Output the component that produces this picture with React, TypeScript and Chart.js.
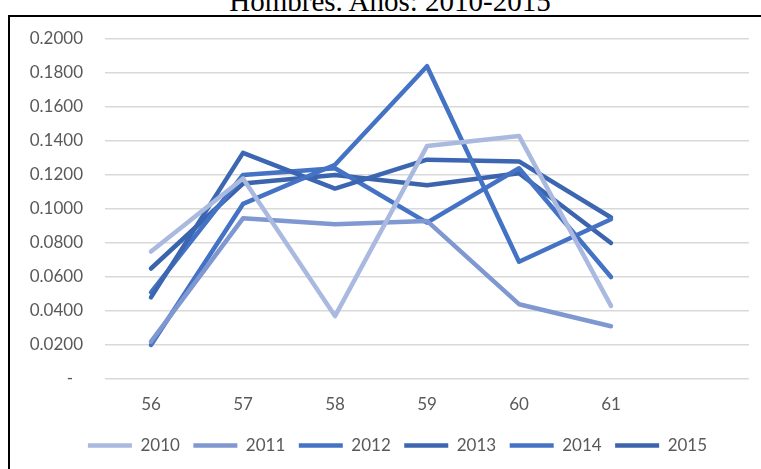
import React, { useEffect, useRef } from 'react';
import { Chart, registerables } from 'chart.js';

Chart.register(...registerables);

const titleText = 'Hombres. Años: 2010-2015';
const categories = ['56', '57', '58', '59', '60', '61', ''];
const years = ['2010', '2011', '2012', '2013', '2014', '2015'];

const s2010 = [0.075, 0.118, 0.037, 0.137, 0.143, 0.043];
const s2011 = [0.022, 0.0945, 0.091, 0.093, 0.044, 0.031];
const s2012 = [0.020, 0.103, 0.126, 0.184, 0.069, 0.094];
const s2013 = [0.048, 0.133, 0.112, 0.129, 0.128, 0.095];
const s2014 = [0.051, 0.120, 0.124, 0.092, 0.124, 0.060];
const s2015 = [0.065, 0.115, 0.120, 0.114, 0.121, 0.080];
const series = [s2010, s2011, s2012, s2013, s2014, s2015];

const colors = ['#A9B9E0', '#7F98D2', '#4472C4', '#3C66B1', '#4472C4', '#3B64AD'];

const yMin = 0;
const yMax = 0.2;
const yStep = 0.02;

const shiftLegend = {
  id: 'shiftLegend',
  afterLayout(chart: any) {
    const l = chart.legend;
    if (l) {
      l.left += 18;
      l.right += 18;
    }
  },
};

export default function App() {
  const ref = useRef<HTMLCanvasElement>(null);

  useEffect(() => {
    const font = { family: 'Lato', size: 17 };
    const chart = new Chart(ref.current as HTMLCanvasElement, {
      type: 'line',
      data: {
        labels: categories,
        datasets: years.map((y, i) => ({
          label: y,
          data: series[i],
          borderColor: colors[i],
          backgroundColor: colors[i],
          borderWidth: 4.5,
          pointRadius: 0,
          pointHoverRadius: 0,
          tension: 0,
          fill: false,
          borderCapStyle: 'round' as const,
          borderJoinStyle: 'round' as const,
        })),
      },
      plugins: [shiftLegend],
      options: {
        animation: false,
        responsive: false,
        maintainAspectRatio: false,
        layout: { padding: { top: 22, right: 12, left: 0, bottom: 5 } },
        plugins: {
          legend: {
            position: 'bottom',
            labels: {
              usePointStyle: true,
              pointStyle: 'line',
              pointStyleWidth: 44,
              padding: 13.5,
              font,
              color: '#595959',
            },
          },
          tooltip: { enabled: false },
          title: { display: false },
        },
        scales: {
          x: {
            offset: true,
            grid: { display: false, drawTicks: false },
            border: { display: false },
            ticks: { padding: 15, font, color: '#595959', maxRotation: 0, autoSkip: false },
            afterFit: (s: any) => {
              s.height = 44.5;
              s.paddingLeft = 0;
              s.paddingRight = 0;
            },
          },
          y: {
            min: yMin,
            max: yMax,
            grid: { color: '#D9D9D9', lineWidth: 1.5, drawTicks: false },
            border: { display: false },
            ticks: {
              stepSize: yStep,
              padding: 22,
              font,
              color: '#595959',
              callback: (v: any) => (Math.abs(Number(v)) < 1e-9 ? '-\u2007' : Number(v).toFixed(4)),
            },
            afterFit: (s: any) => {
              s.width = 95;
              s.paddingTop = 0;
              s.paddingBottom = 0;
            },
          },
        },
      },
    });
    return () => chart.destroy();
  }, []);

  return (
    <div style={{ position: 'absolute', left: 0, top: 0, width: 761, height: 469, overflow: 'hidden', background: '#fff' }}>
      <div
        style={{
          position: 'absolute',
          left: 0,
          top: -13,
          width: 780,
          textAlign: 'center',
          fontFamily: '"Liberation Serif", "Times New Roman", serif',
          fontSize: 29,
          lineHeight: '29px',
          color: '#000',
          whiteSpace: 'nowrap',
        }}
      >
        {titleText}
      </div>
      <div
        style={{
          position: 'absolute',
          left: 8,
          top: 15,
          width: 800,
          height: 500,
          border: '2px solid #000',
          boxSizing: 'border-box',
        }}
      />
      <canvas
        ref={ref}
        width={751}
        height={452}
        style={{ position: 'absolute', left: 10, top: 17, width: 751, height: 452 }}
      />
    </div>
  );
}
